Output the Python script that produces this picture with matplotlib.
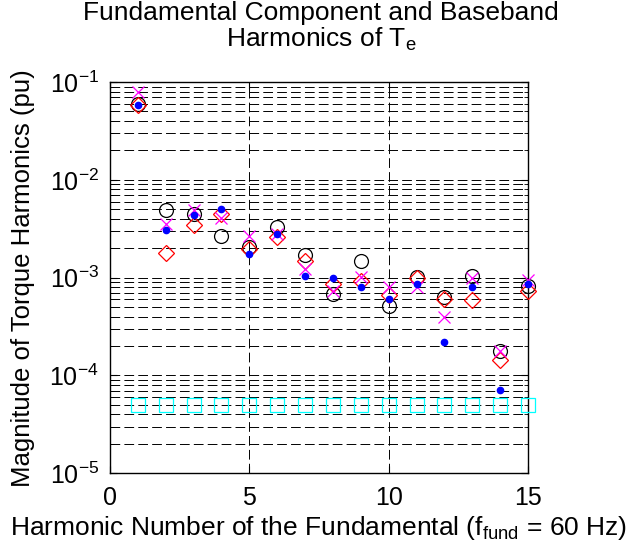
import numpy as np
import matplotlib
matplotlib.use('Agg')
import matplotlib.pyplot as plt
from matplotlib.ticker import FixedLocator, LogLocator, NullFormatter, FuncFormatter

plt.rcParams['font.family'] = ['Liberation Sans', 'DejaVu Sans']
plt.rcParams['mathtext.fontset'] = 'custom'
plt.rcParams['mathtext.rm'] = 'Liberation Sans'
plt.rcParams['lines.scale_dashes'] = False

harmonic = np.arange(1, 16)

# torque harmonic magnitudes (pu) for the four cases
case_circle = [0.0592, 0.00491, 0.00447, 0.00264, 0.00207, 0.00326, 0.00172, 0.000681,
               0.00149, 0.000517, 0.00101, 0.00063, 0.00103, 0.000180, 0.000815]
case_dot = [0.0578, 0.00307, 0.0044, 0.00509, 0.00175, 0.00279, 0.00103, 0.000993,
            0.000796, 0.000606, 0.00086, 0.000219, 0.0008, 7.15e-5, 0.000855]
case_diamond = [0.058, 0.00177, 0.00347, 0.00447, 0.00196, 0.00258, 0.00149, 0.000863,
                0.000918, 0.000671, 0.001, 0.000606, 0.000597, 0.000145, 0.000725]
case_cross = [0.0796, 0.00353, 0.0049, 0.00412, 0.00264, 0.0028, 0.00122, 0.000737,
              0.00101, 0.0008, 0.0008, 0.000394, 0.001, 0.000177, 0.000946]
# measurement floor
noise_floor = [5e-5] * 15

fig = plt.figure(figsize=(6.42, 5.58), dpi=100)
ax = fig.add_axes([0.1713, 0.1518, 0.6511, 0.7012])

kw = dict(linestyle='none', clip_on=False, zorder=3)
ax.plot(harmonic, noise_floor, marker='s', ms=9.5, mfc='none', mec=(0, 1, 1), mew=0.9, **kw)
ax.plot(harmonic, case_circle, marker='o', ms=10, mfc='none', mec='k', mew=0.9, **kw)
ax.plot(harmonic, case_diamond, marker='D', ms=8, mfc='none', mec='r', mew=0.9, **kw)
ax.plot(harmonic, case_cross, marker='x', ms=9, mec=(1, 0, 1), mew=0.9, **kw)
ax.plot(harmonic, case_dot, marker='o', ms=4.5, mfc='b', mec='b', **kw)

ax.set_yscale('log')
ax.set_xlim(0, 15)
ax.set_ylim(1e-5, 1e-1)
ax.xaxis.set_major_locator(FixedLocator([0, 5, 10, 15]))
ax.yaxis.set_major_locator(LogLocator(base=10, numticks=10))
ax.yaxis.set_minor_locator(LogLocator(base=10, subs=np.arange(2, 10), numticks=10))
ax.yaxis.set_minor_formatter(NullFormatter())
ax.yaxis.set_major_formatter(FuncFormatter(
    lambda v, p: r'$\mathregular{10^{%d}}$' % int(round(np.log10(v)))))

dash = (0, (7, 3))
ax.grid(True, which='major', axis='both', color='k', lw=0.7, linestyle=dash)
ax.grid(True, which='minor', axis='y', color='k', lw=0.7, linestyle=dash)

ax.tick_params(which='both', direction='in', top=True, right=True, labelsize=18)
ax.tick_params(which='major', length=5)
ax.tick_params(which='minor', length=3)
ax.tick_params(axis='x', pad=9)
ax.tick_params(axis='y', pad=8)
for s in ax.spines.values():
    s.set_linewidth(1.0)

# two-line title placed on the figure
fig.text(0.5, 0.9642, 'Fundamental Component and Baseband', fontsize=19,
         ha='center', va='baseline')
fig.text(0.5, 0.9158, r'Harmonics of T$_\mathregular{e}$', fontsize=19,
         ha='center', va='baseline')

ax.set_xlabel(r'Harmonic Number of the Fundamental (f$_\mathregular{fund}$ = 60 Hz)',
              fontsize=19, labelpad=3)
ax.set_ylabel('Magnitude of Torque Harmonics (pu)', fontsize=18.5)
ax.yaxis.set_label_coords(-0.18, 0.5)

fig.savefig('out.png', dpi=100)
